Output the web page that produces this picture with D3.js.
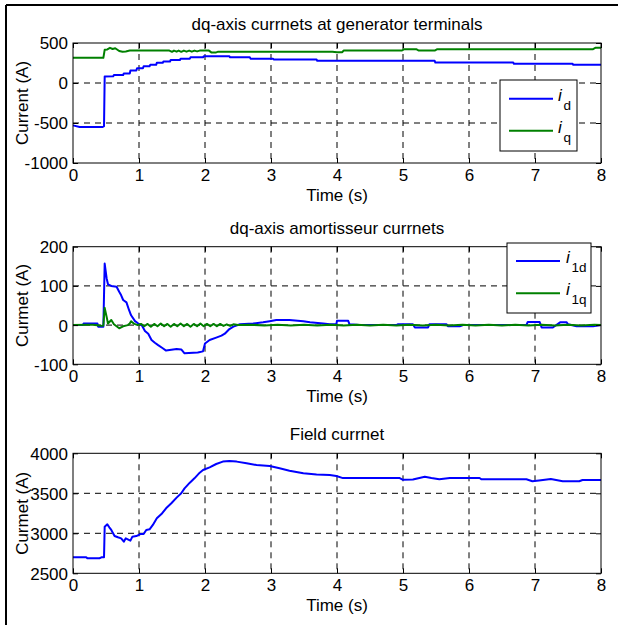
<!DOCTYPE html>
<html>
<head>
<meta charset="utf-8">
<script src="https://cdn.jsdelivr.net/npm/d3@7"></script>
<style>
  body { margin: 0; background: #fff; }
  text { font-family: "Liberation Sans", Arial, sans-serif; fill: #000; }
</style>
</head>
<body>
<div id="chart"></div>
<script>
// ---- data: [time (s), current (A)] ----
const xTicks = [0, 1, 2, 3, 4, 5, 6, 7, 8];

const idData = [[0,-530],[0.1,-550],[0.45,-550],[0.47,-540],[0.48,80],[0.61,85],[0.62,100],[0.76,100],[0.77,120],
  [0.86,120],[0.87,155],[0.96,155],[0.97,185],[1.06,185],[1.07,210],[1.16,210],[1.17,227],[1.26,227],[1.27,253],
  [1.36,253],[1.37,269],[1.47,269],[1.48,287],[1.62,287],[1.63,304],[1.77,304],[1.78,321],[1.97,321],[1.98,333],
  [2.37,333],[2.38,321],[2.68,321],[2.69,304],[3.03,304],[3.04,295],[3.69,295],[3.7,278],[5.48,278],[5.49,255],
  [6.67,255],[6.68,240],[7.57,240],[7.58,227],[8,227]];
const iqData = [[0,315],[0.46,315],[0.48,415],[0.52,420],[0.56,440],[0.6,425],[0.64,435],[0.7,400],[0.75,390],
  [0.8,395],[0.86,405],[1.46,405],[1.5,390],[1.53,405],[1.57,392],[1.6,405],[1.64,390],[1.68,405],[1.72,392],
  [1.76,405],[1.8,392],[1.84,405],[1.88,395],[1.92,405],[2.06,405],[2.1,380],[2.16,380],[2.2,392],[3.93,392],
  [4.0,385],[4.08,385],[4.1,406],[4.98,406],[5.02,423],[5.2,423],[5.24,406],[5.48,406],[5.52,423],[7.88,423],
  [7.92,441],[8,441]];

const i1dData = [[0,0],[0.15,0],[0.16,4],[0.37,4],[0.38,-4],[0.46,-4],[0.48,157],[0.51,119],[0.53,104],[0.58,100],
  [0.66,98],[0.7,85],[0.73,76],[0.76,64],[0.81,58],[0.85,38],[0.88,25],[0.94,10],[0.99,4],[1.04,0],[1.09,-15],
  [1.14,-22],[1.19,-38],[1.24,-45],[1.29,-51],[1.36,-59],[1.41,-65],[1.57,-61],[1.64,-62],[1.69,-72],[1.89,-70],
  [1.97,-67],[2.0,-47],[2.07,-38],[2.17,-32],[2.25,-27],[2.3,-22],[2.37,-10],[2.43,-4],[2.53,2],[2.73,4],[2.88,7],
  [2.98,10],[3.08,13],[3.28,13],[3.49,10],[3.59,7],[3.79,4],[3.89,2],[3.99,2],[4.0,11],[4.17,11],[4.19,2],[4.34,0],
  [4.9,0],[4.92,2],[5.15,2],[5.18,-6],[5.38,-6],[5.4,2],[5.66,2],[5.68,-3],[5.86,-3],[5.91,0],[6.87,0],[6.89,8],
  [7.07,8],[7.1,-6],[7.27,-6],[7.38,7],[7.48,7],[7.5,2],[7.63,-3],[7.88,-3],[8,0]];
const i1qData = [[0,0],[0.2,1],[0.3,1],[0.4,-1],[0.44,-2],[0.46,-1],[0.48,44],[0.51,21],[0.53,4],[0.58,13],[0.62,2],
  [0.66,-3],[0.7,-8],[0.76,-3],[0.83,0],[0.86,4],[0.88,10],[0.93,3],[0.98,0],[1.03,3],[1.08,-3],[1.13,3],[1.18,-4],
  [1.23,3],[1.28,-3],[1.33,4],[1.38,-3],[1.43,3],[1.48,-4],[1.53,3],[1.58,-3],[1.63,4],[1.68,-3],[1.73,3],[1.78,-4],
  [1.83,3],[1.88,-3],[1.93,4],[1.98,-3],[2.03,3],[2.08,-3],[2.13,3],[2.18,-3],[2.23,3],[2.28,-2],[2.33,2],[2.38,-2],
  [2.43,2],[2.5,0],[2.7,1],[2.9,-1],[3.1,1],[3.3,-1],[3.5,1],[3.7,-1],[3.9,1],[4.1,-1],[4.3,1],[4.5,-1],[4.7,1],
  [4.9,-1],[5.1,1],[5.3,-1],[5.5,1],[5.7,-1],[5.9,1],[6.1,-1],[6.3,1],[6.5,-1],[6.7,1],[6.9,-1],[7.1,1],[7.3,-1],
  [7.5,1],[7.7,-1],[7.9,1],[8,0]];

const ifData = [[0,2700],[0.2,2700],[0.22,2687],[0.4,2687],[0.43,2700],[0.47,2700],[0.48,3083],[0.52,3112],
  [0.55,3075],[0.58,3042],[0.63,2966],[0.68,2950],[0.73,2937],[0.77,2896],[0.8,2937],[0.83,2925],[0.87,2908],
  [0.9,2958],[0.96,2966],[1.02,2991],[1.07,2991],[1.11,3042],[1.16,3050],[1.21,3104],[1.27,3187],[1.34,3241],
  [1.41,3312],[1.49,3375],[1.57,3446],[1.64,3500],[1.69,3562],[1.77,3633],[1.84,3687],[1.92,3758],[1.97,3791],
  [2.07,3825],[2.17,3866],[2.27,3896],[2.37,3904],[2.48,3896],[2.63,3875],[2.78,3854],[2.98,3842],[3.13,3812],
  [3.28,3783],[3.49,3750],[3.69,3735],[3.89,3729],[3.99,3716],[4.09,3690],[4.95,3690],[5.0,3668],[5.15,3672],
  [5.33,3708],[5.43,3690],[5.55,3675],[5.71,3691],[6.16,3691],[6.19,3675],[6.87,3675],[6.96,3650],[7.06,3660],
  [7.24,3679],[7.42,3650],[7.67,3650],[7.72,3666],[8,3666]];

const p1YTicks = [-1000, -500, 0, 500];
const p2YTicks = [-100, 0, 100, 200];
const p3YTicks = [2500, 3000, 3500, 4000];

const titles = ["dq-axis currnets at generator terminals", "dq-axis amortisseur currnets", "Field currnet"];
const yLabels = ["Current (A)", "Curmet (A)", "Curmet (A)"];
const xLabel = "Time (s)";

// ---- drawing ----
const W = 618, H = 625;
const svg = d3.select("#chart").append("svg").attr("width", W).attr("height", H);

// figure frame (top and left edges visible)
svg.append("line").attr("x1", 6).attr("x2", W).attr("y1", 5).attr("y2", 5).attr("stroke", "#000").attr("stroke-width", 2);
svg.append("line").attr("x1", 6).attr("x2", 6).attr("y1", 5).attr("y2", H).attr("stroke", "#000").attr("stroke-width", 2);

const BLUE = "#0000ff", GREEN = "#008000";
const left = 73, right = 601;

function drawPanel(cfg) {
  const x = d3.scaleLinear().domain([0, 8]).range([left, right]);
  const y = d3.scaleLinear().domain(d3.extent(cfg.yTicks)).range([cfg.bottom, cfg.top]);
  const g = svg.append("g");

  // dashed grid
  g.selectAll(".vg").data(xTicks.slice(1, -1)).join("line")
    .attr("x1", d => x(d)).attr("x2", d => x(d)).attr("y1", cfg.top).attr("y2", cfg.bottom)
    .attr("stroke", "#000").attr("stroke-dasharray", "6,5");
  g.selectAll(".hg").data(cfg.yTicks.slice(1, -1)).join("line")
    .attr("x1", left).attr("x2", right).attr("y1", d => y(d)).attr("y2", d => y(d))
    .attr("stroke", "#000").attr("stroke-dasharray", "6,5");

  // data lines
  const line = d3.line().x(d => x(d[0])).y(d => y(d[1]));
  cfg.series.forEach(s => {
    g.append("path").datum(s.data).attr("d", line)
      .attr("fill", "none").attr("stroke", s.color).attr("stroke-width", 2)
      .attr("stroke-linejoin", "round");
  });

  // axes with inward ticks
  const fs = "17px";
  const bottomAxis = g.append("g").attr("transform", `translate(0,${cfg.bottom})`)
    .call(d3.axisBottom(x).tickValues(xTicks).tickSize(-5).tickPadding(6).tickFormat(d => String(d)));
  const leftAxis = g.append("g").attr("transform", `translate(${left},0)`)
    .call(d3.axisLeft(y).tickValues(cfg.yTicks).tickSize(-5).tickPadding(5).tickFormat(d => String(d)));
  g.append("g").attr("transform", `translate(0,${cfg.top})`)
    .call(d3.axisTop(x).tickValues(xTicks).tickSize(-5).tickFormat(""));
  g.append("g").attr("transform", `translate(${right},0)`)
    .call(d3.axisRight(y).tickValues(cfg.yTicks).tickSize(-5).tickFormat(""));
  g.selectAll(".domain").remove();
  g.selectAll(".tick line").attr("stroke", "#000");
  [bottomAxis, leftAxis].forEach(a => a.selectAll("text")
    .style("font-family", "'Liberation Sans', Arial, sans-serif").style("font-size", fs).attr("fill", "#000"));
  leftAxis.selectAll("text").attr("dy", "0.35em");

  // axes box
  g.append("rect").attr("x", left).attr("y", cfg.top).attr("width", right - left).attr("height", cfg.bottom - cfg.top)
    .attr("fill", "none").attr("stroke", "#000").attr("stroke-width", 1);

  // labels
  g.append("text").attr("x", (left + right) / 2).attr("y", cfg.top - 13)
    .attr("text-anchor", "middle").style("font-size", fs).text(cfg.title);
  g.append("text").attr("x", (left + right) / 2).attr("y", cfg.bottom + 38)
    .attr("text-anchor", "middle").style("font-size", fs).text(xLabel);
  g.append("text").attr("transform", `translate(28,${(cfg.top + cfg.bottom) / 2}) rotate(-90)`)
    .attr("text-anchor", "middle").style("font-size", fs).text(cfg.yLabel);

  // legend
  if (cfg.legend) {
    const L = cfg.legend;
    g.append("rect").attr("x", L.x).attr("y", L.y).attr("width", L.w).attr("height", L.h)
      .attr("fill", "#fff").attr("stroke", "#000").attr("stroke-width", 1);
    cfg.series.forEach((s, i) => {
      const ly = L.rowY[i];
      g.append("line").attr("x1", L.lineX0).attr("x2", L.lineX1).attr("y1", ly).attr("y2", ly)
        .attr("stroke", s.color).attr("stroke-width", 2);
      g.append("text").attr("x", L.textX).attr("y", ly + 2).style("font-size", fs)
        .style("font-style", "italic").text("i");
      g.append("text").attr("x", L.textX + 5.5).attr("y", ly + 11).style("font-size", "13.5px").text(s.sub);
    });
  }
}

drawPanel({
  top: 43, bottom: 163, yTicks: p1YTicks, title: titles[0], yLabel: yLabels[0],
  series: [{ data: idData, color: BLUE, sub: "d" }, { data: iqData, color: GREEN, sub: "q" }],
  legend: { x: 500, y: 80, w: 77, h: 71, lineX0: 509, lineX1: 553, textX: 558, rowY: [98.7, 130.7] }
});
drawPanel({
  top: 246.7, bottom: 364.3, yTicks: p2YTicks, title: titles[1], yLabel: yLabels[1],
  series: [{ data: i1dData, color: BLUE, sub: "1d" }, { data: i1qData, color: GREEN, sub: "1q" }],
  legend: { x: 507, y: 243, w: 84, h: 70, lineX0: 516, lineX1: 560, textX: 566, rowY: [261, 293.3] }
});
drawPanel({
  top: 453.3, bottom: 573.3, yTicks: p3YTicks, title: titles[2], yLabel: yLabels[2],
  series: [{ data: ifData, color: BLUE }]
});
</script>
</body>
</html>
